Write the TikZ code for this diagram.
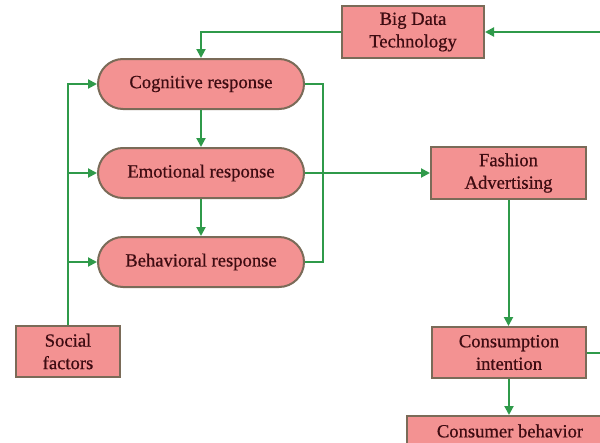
\documentclass[tikz,border=0pt]{standalone}
\usepackage{fontspec}
\setmainfont{Liberation Serif}
\usetikzlibrary{arrows.meta}
\definecolor{boxfill}{HTML}{F39292}
\definecolor{boxline}{HTML}{7A6B58}
\definecolor{txt}{HTML}{3E0C12}
\definecolor{conn}{HTML}{2F9A4A}
\tikzset{
  basebox/.style={draw=boxline, line width=2pt, fill=boxfill, text=txt, inner sep=0pt, align=center,
    font=\fontsize{18.6}{22.5}\selectfont\addfontfeature{FakeBold=0.6}},
  rectbox/.style={basebox, rectangle},
  pillbox/.style={basebox, rectangle, rounded corners=25pt, minimum width=206pt, minimum height=50pt},
  link/.style={draw=conn, line width=2pt},
  arr/.style={link, -{Triangle[length=9pt,width=9pt]}}
}
\begin{document}
\begin{tikzpicture}[x=1pt,y=-1pt]
\useasboundingbox (0,0) rectangle (600,442);
\fill[white] (0,0) rectangle (600,442);
\clip (0,0) rectangle (600,442);
\node[rectbox, minimum width=142pt, minimum height=52pt] (bigdata) at (413,32) {Big Data\\Technology};
\node[pillbox] (cog) at (201,84) {Cognitive response};
\node[pillbox] (emo) at (201,173) {Emotional response};
\node[pillbox] (beh) at (201,262) {Behavioral response};
\node[rectbox, minimum width=155pt, minimum height=52pt] (fash) at (508.5,173) {Fashion\\Advertising};
\node[rectbox, minimum width=104pt, minimum height=51pt] (social) at (68,351.5) {Social\\factors};
\node[rectbox, minimum width=154pt, minimum height=51pt] (cons) at (509,352.5) {Consumption\\intention};
\node[rectbox, minimum width=206pt, minimum height=30pt] (consb) at (510,431) {Consumer behavior};
\coordinate (rb) at (615,352.5);
\coordinate (rt) at (615,32);
\coordinate (br) at (323,84);
% connectors
\draw[arr] (bigdata.west) -| (cog.north);
\draw[arr] (cons.east) -- (rb) -- (rt) -- (bigdata.east);
\draw[arr] (cog.south) -- (emo.north);
\draw[arr] (emo.south) -- (beh.north);
\draw[link] (cog.east) -- (br) |- (beh.east);
\draw[arr] (emo.east) -- (fash.west);
\draw[arr] (social.north) |- (cog.west);
\draw[arr] (social.north) |- (emo.west);
\draw[arr] (social.north) |- (beh.west);
\draw[arr] (fash.south) -- (fash.south |- cons.north);
\draw[arr] (cons.south) -- (cons.south |- consb.north);
\end{tikzpicture}
\end{document}
